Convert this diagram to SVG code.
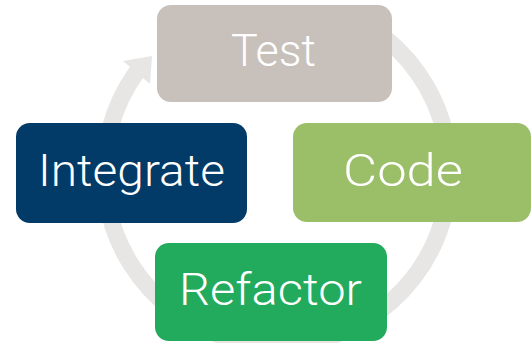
<svg xmlns="http://www.w3.org/2000/svg" width="532" height="343" viewBox="0 0 532 343">
  <style>
    .ring { fill: none; stroke: #e7e6e4; stroke-width: 17; }
    .head { fill: #e7e6e4; }
    .lbl { font-family: "Roboto", "Liberation Sans", sans-serif; font-weight: 300; font-size: 44px; fill: #ffffff; text-anchor: middle; }
  </style>
  <rect width="532" height="343" fill="#ffffff"/>
  <g id="connectors">
    <path class="ring" d="M 384.9 37.9 A 172.5 172.5 0 1 1 137 71.5"/>
    <polygon class="head" points="123,61 152,56 150,84"/>
  </g>
  <g id="test">
    <rect x="157" y="5" width="235" height="97" rx="14" fill="#c8c1bb"/>
    <text class="lbl" x="273.5" y="65.5" textLength="85" lengthAdjust="spacingAndGlyphs">Test</text>
  </g>
  <g id="integrate">
    <rect x="16" y="123" width="231" height="100" rx="14" fill="#023a68"/>
    <text class="lbl" x="131.5" y="186" textLength="187" lengthAdjust="spacingAndGlyphs">Integrate</text>
  </g>
  <g id="code">
    <rect x="293" y="123" width="238" height="99" rx="14" fill="#9bbe68"/>
    <text class="lbl" x="403" y="186" textLength="120" lengthAdjust="spacingAndGlyphs">Code</text>
  </g>
  <g id="refactor">
    <rect x="155" y="243" width="232" height="98" rx="14" fill="#22aa5d"/>
    <text class="lbl" x="270.5" y="305" textLength="183" lengthAdjust="spacingAndGlyphs">Refactor</text>
  </g>
</svg>
